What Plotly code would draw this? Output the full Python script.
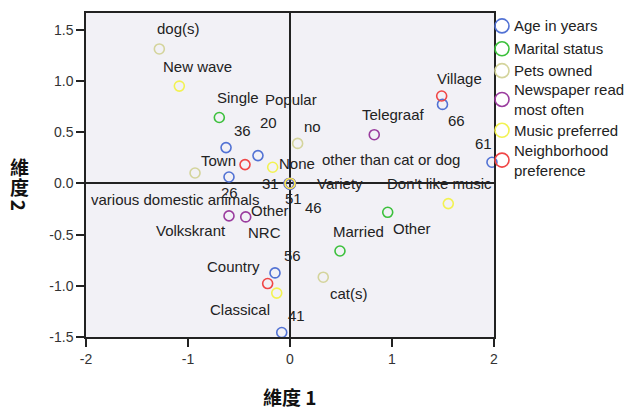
import plotly.graph_objects as go

# category quantifications (dimension 1, dimension 2)
age_labels = ["20", "26", "31", "36", "41", "46", "51", "56", "61", "66"]
age_x = [-0.314, -0.598, -0.01, -0.627, -0.081, 0.0, 0.005, -0.147, 1.98, 1.495]
age_y = [0.272, 0.063, 0.0, 0.35, -1.456, -0.01, 0.0, -0.874, 0.207, 0.772]

marital_labels = ["Single", "Married", "Other"]
marital_x = [-0.693, 0.49, 0.958]
marital_y = [0.644, -0.66, -0.282]

pets_labels = ["no", "cat(s)", "dog(s)", "other than cat or dog", "various domestic animals"]
pets_x = [0.075, 0.326, -1.281, 0.0, -0.931]
pets_y = [0.391, -0.916, 1.314, 0.0, 0.102]

paper_labels = ["None", "Telegraaf", "Volkskrant", "NRC", "Other"]
paper_x = [0.0, 0.826, -0.598, -0.434, 0.0]
paper_y = [0.0, 0.476, -0.317, -0.327, 0.0]

music_labels = ["Classical", "New wave", "Popular", "Variety", "Don't like music"]
music_x = [-0.13, -1.085, -0.17, 0.0, 1.552]
music_y = [-1.071, 0.951, 0.158, 0.0, -0.197]

hood_labels = ["Town", "Village", "Country"]
hood_x = [-0.441, 1.487, -0.219]
hood_y = [0.184, 0.854, -0.978]

variables = [
    ("Age in years", age_labels, age_x, age_y),
    ("Marital status", marital_labels, marital_x, marital_y),
    ("Pets owned", pets_labels, pets_x, pets_y),
    ("Newspaper read<br>most often", paper_labels, paper_x, paper_y),
    ("Music preferred", music_labels, music_x, music_y),
    ("Neighborhood<br>preference", hood_labels, hood_x, hood_y),
]

colors = ["#5272d4", "#3cc03c", "#d4d49c", "#9a3c9e", "#f2f252", "#f04646"]

# label offsets in pixels (dx right, dy up), one list per variable
label_shift = [
    [(11, 33), (0, -15), (-18, 0), (16, 17), (15, 17), (23, -23), (3, -15), (17, 17), (-8, 19), (14, -16)],
    [(19, 20), (19, 20), (24, -16)],
    [(15, 17), (26, -16), (19, 20), (101, 24), (-20, -26)],
    [(7, 20), (19, 20), (-38, -15), (19, -16), (-20, -27)],
    [(-37, -16), (18, 20), (18, 68), (50, 0), (-9, 20)],
    [(-27, 4), (18, 18), (-34, 17)],
]

# page body adds an 8px margin, so draw the figure that much smaller
OFF = 8
W, H = 643 - OFF, 410 - OFF
plot_l, plot_r, plot_t, plot_b = 86 - OFF, 494 - OFF, 11 - OFF, 337 - OFF
ph = plot_b - plot_t
pw = plot_r - plot_l

fig = go.Figure()
annotations = []
shapes = []
label_font = dict(family="Liberation Sans, Arial", size=15, color="#222222")

for i, (name, labels, xs, ys) in enumerate(variables):
    fig.add_trace(go.Scatter(
        x=xs, y=ys, mode="markers", name=name,
        marker=dict(symbol="circle-open", size=10, color=colors[i], line=dict(width=1.6)),
        cliponaxis=False,
    ))
    for lab, x, y, (dx, dy) in zip(labels, xs, ys, label_shift[i]):
        annotations.append(dict(
            x=x, y=y, text=lab, showarrow=False, xshift=dx, yshift=dy,
            xanchor="center", yanchor="middle", font=label_font,
        ))

# hand-built legend to the right of the plot
legend_rows = [24, 47, 69, 98, 129, 159]
for i, (name, _, _, _) in enumerate(variables):
    yy = (plot_b - (legend_rows[i] - OFF)) / ph
    xx = (502 - OFF - plot_l) / pw
    shapes.append(dict(
        type="circle", xref="paper", yref="paper", xsizemode="pixel", ysizemode="pixel",
        xanchor=xx, yanchor=yy, x0=-7, x1=7, y0=-7, y1=7,
        line=dict(color=colors[i], width=1.6),
    ))
    annotations.append(dict(
        x=xx, y=yy, xref="paper", yref="paper", xshift=10, text=name, showarrow=False,
        xanchor="left", yanchor="middle", align="left", font=label_font,
    ))

# axis titles
title_font = dict(family="Noto Sans CJK TC", size=19, color="#111111")
annotations.append(dict(
    x=0.5, y=0, xref="paper", yref="paper", yshift=-(396 - 337), text="<b>維度 1</b>",
    showarrow=False, xanchor="center", yanchor="middle", font=title_font,
))
for ch, cy, ang in [("維", 165, 0), ("度", 186, 0), ("2", 204, 90)]:
    annotations.append(dict(
        x=0, y=(plot_b - (cy - OFF)) / ph, xref="paper", yref="paper", xshift=19 - 86,
        text="<b>%s</b>" % ch, textangle=ang, showarrow=False,
        xanchor="center", yanchor="middle", font=title_font,
    ))

axis_common = dict(
    showline=True, mirror=True, linecolor="#222222", linewidth=1.5,
    ticks="outside", ticklen=8, tickwidth=1.5, tickcolor="#222222",
    showgrid=False, zeroline=True, zerolinecolor="#222222", zerolinewidth=2,
    tickfont=dict(family="Liberation Sans, Arial", size=14, color="#333333"),
)

fig.update_layout(
    width=W, height=H,
    margin=dict(l=plot_l, r=W - plot_r, t=plot_t, b=H - plot_b),
    paper_bgcolor="white", plot_bgcolor="#f2f1f6",
    showlegend=False,
    xaxis=dict(range=[-2, 2], tickvals=[-2, -1, 0, 1, 2], ticktext=["-2", "-1", "0", "1", "2"], **axis_common),
    yaxis=dict(range=[-1.5, 1.665], tickvals=[-1.5, -1.0, -0.5, 0.0, 0.5, 1.0, 1.5],
               ticktext=["-1.5", "-1.0", "-0.5", "0.0", "0.5", "1.0", "1.5"], **axis_common),
    annotations=annotations,
    shapes=shapes,
)

fig.write_html("out.html")
